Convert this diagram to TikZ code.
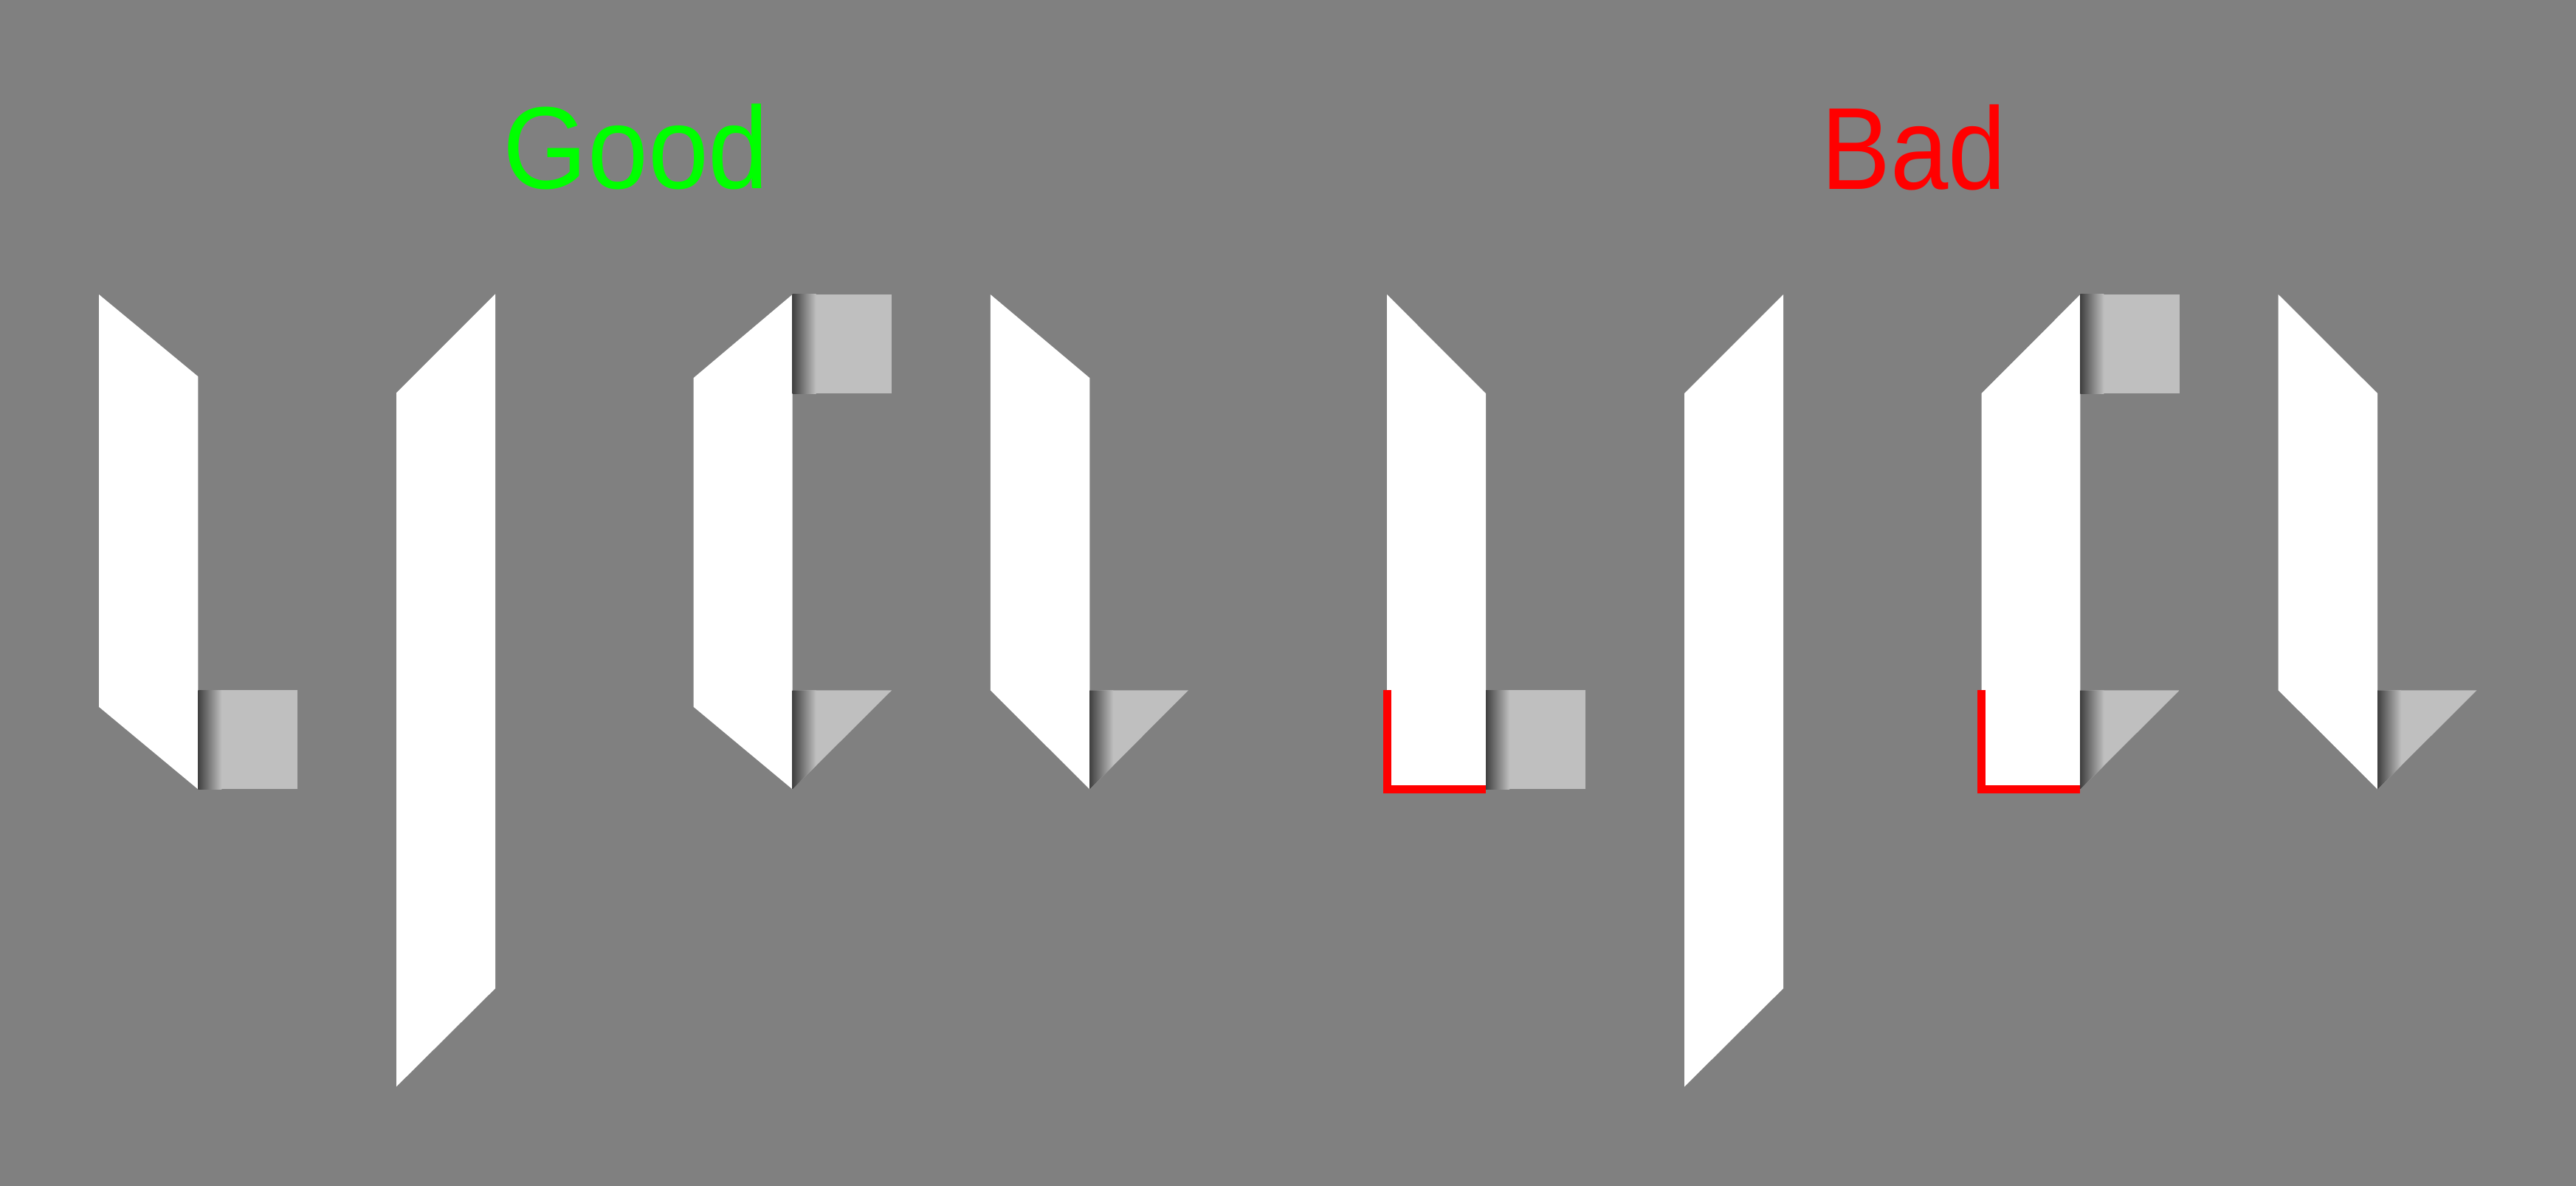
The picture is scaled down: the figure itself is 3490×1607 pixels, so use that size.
\documentclass[tikz,border=0pt]{standalone}
\usepackage{fontspec}
\setmainfont{Liberation Sans}
\definecolor{bg}{HTML}{808080}
\definecolor{flapc}{HTML}{BFBFBF}
\definecolor{foldc}{HTML}{404040}
\definecolor{goodgreen}{HTML}{00FF00}
\definecolor{badred}{HTML}{FF0000}
\tikzset{
  panel/.style={fill=white},
  flap/.style={fill=flapc},
  fold/.style={left color=foldc, right color=flapc},
  redmark/.style={draw=badred, line width=0.11cm, line join=miter, line cap=butt},
  title/.style={anchor=base, inner sep=0pt, font=\fontsize{45}{54}\selectfont}
}
\newcommand\myrectflap[4]{%
  \fill[flap] (#1,#2) rectangle (#3,#4);
  \shade[fold] (#1,#2) rectangle ({#1+32},#4);}
\newcommand\mytriflap[4]{%
  \begin{scope}
    \clip (#1,#2) -- (#3,#2) -- (#1,#4) -- cycle;
    \fill[flap] (#1,#2) rectangle (#3,#4);
    \shade[fold] (#1,#2) rectangle ({#1+32},#4);
  \end{scope}}
\begin{document}
\begin{tikzpicture}[x=0.01cm,y=-0.01cm]
\fill[bg] (0,0) rectangle (3490,1607);
\useasboundingbox (0,0) rectangle (3490,1607);

% titles
\node[title, text=goodgreen] (good) at (861.7,256) {\scalebox{0.93}[1]{Good}};
\node[title, text=badred] (bad) at (2593,256.7) {\scalebox{0.89}[1]{Bad}};

% ---------- Good group ----------
% A
\fill[panel] (134,399) -- (268.3,510.1) -- (268.3,1069.4) -- (134,957.8) -- cycle;
\myrectflap{268.3}{935.3}{402.7}{1069.4}
% B
\fill[panel] (537,532.3) -- (671,398.5) -- (671,1339.3) -- (537,1472.4) -- cycle;
% C
\fill[panel] (939.6,512.1) -- (1073.6,399) -- (1073.6,1069.4) -- (939.6,957.8) -- cycle;
\myrectflap{1073.6}{399}{1208.2}{533.1}
\mytriflap{1073.6}{935.3}{1208.2}{1069.4}
% D
\fill[panel] (1341.8,399) -- (1476.3,512.1) -- (1476.3,1069.4) -- (1341.8,935.3) -- cycle;
\mytriflap{1476.3}{935.3}{1610}{1069.4}

% ---------- Bad group ----------
% E
\fill[panel] (1879,399) -- (2013,533.1) -- (2013,1069.4) -- (1879,1069.4) -- cycle;
\myrectflap{2013}{935.3}{2147.8}{1069.4}
\coordinate (e1) at (1879,935.3);
\coordinate (e2) at (1879,1069.4);
\coordinate (e3) at (2013,1069.4);
\draw[redmark] (e1) -- (e2) -- (e3);
% F
\fill[panel] (2282.1,533.1) -- (2416,399) -- (2416,1339.3) -- (2282.1,1472.4) -- cycle;
% G
\fill[panel] (2684.6,533.1) -- (2818.4,399) -- (2818.4,1069.4) -- (2684.6,1069.4) -- cycle;
\myrectflap{2818.4}{399}{2952.8}{533.1}
\mytriflap{2818.4}{935.3}{2952.8}{1069.4}
\coordinate (g1) at (2684.6,935.3);
\coordinate (g2) at (2684.6,1069.4);
\coordinate (g3) at (2818.4,1069.4);
\draw[redmark] (g1) -- (g2) -- (g3);
% H
\fill[panel] (3086.7,399) -- (3221.1,533.1) -- (3221.1,1069.4) -- (3086.7,935.3) -- cycle;
\mytriflap{3221.1}{935.3}{3355.6}{1069.4}
\end{tikzpicture}
\end{document}
